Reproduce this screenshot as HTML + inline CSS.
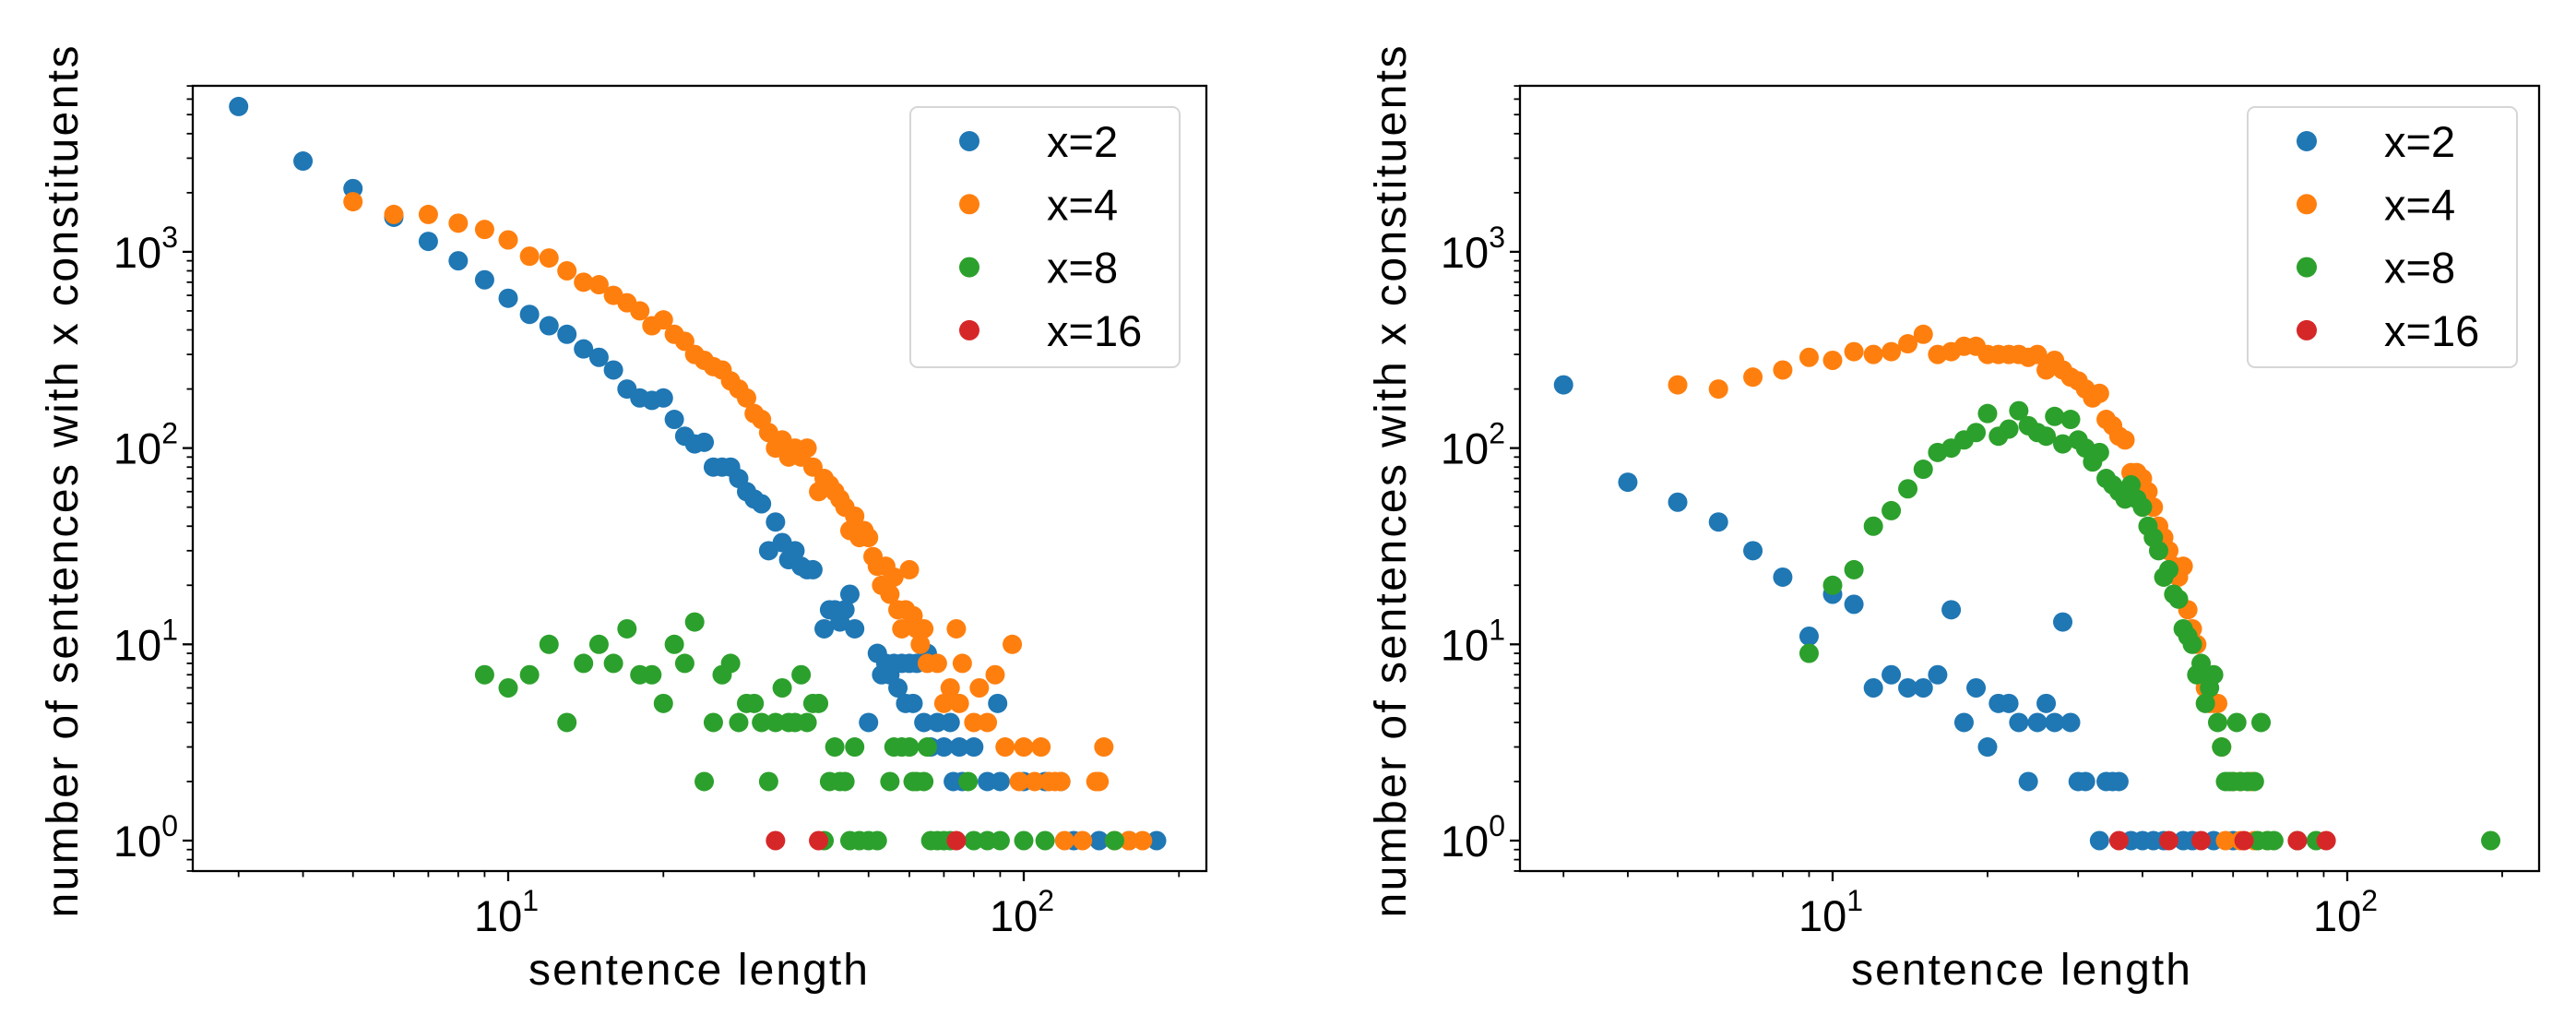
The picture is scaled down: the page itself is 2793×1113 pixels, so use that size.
<!DOCTYPE html>
<html><head><meta charset="utf-8"><style>
html,body{margin:0;padding:0;background:#fff;}
svg{display:block;font-family:"Liberation Sans","DejaVu Sans",sans-serif;}
</style></head><body>
<svg id="fig" width="2793" height="1113" viewBox="0 0 2793 1113" xmlns="http://www.w3.org/2000/svg"></svg>
<script>
// ---- data: [sentence length, count] ----
const leftBlue = [[3,5500],[4,2900],[5,2100],[6,1500],[7,1130],[8,900],[9,720],[10,580],[11,480],[12,420],[13,380],[14,320],[15,290],[16,250],[17,200],[18,180],[19,175],[20,180],[21,140],[22,115],[23,105],[24,107],[25,80],[26,80],[27,80],[28,70],[29,60],[30,55],[31,52],[32,30],[33,42],[34,33],[35,27],[36,30],[37,25],[38,24],[39,24],[41,12],[42,15],[43,15],[44,13],[45,15],[46,18],[47,12],[50,4],[52,9],[53,7],[54,8],[55,7],[56,8],[57,6],[58,8],[59,5],[60,8],[61,5],[62,8],[64,4],[65,9],[66,3],[68,4],[70,3],[72,4],[73,2],[75,3],[76,2],[80,3],[85,2],[89,5],[90,2],[100,2],[110,2],[118,2],[125,1],[140,1],[160,1],[181,1]];
const leftOrange = [[5,1800],[6,1550],[7,1550],[8,1400],[9,1300],[10,1150],[11,950],[12,930],[13,800],[14,700],[15,680],[16,600],[17,550],[18,500],[19,420],[20,450],[21,380],[22,350],[23,300],[24,280],[25,260],[26,250],[27,220],[28,200],[29,180],[30,150],[31,140],[32,120],[33,100],[34,110],[35,90],[36,100],[37,90],[38,100],[39,80],[40,60],[41,70],[42,65],[43,60],[44,55],[45,50],[46,38],[47,45],[48,35],[49,38],[50,35],[51,28],[52,25],[53,20],[54,25],[55,18],[56,22],[57,15],[58,12],[59,15],[60,24],[61,14],[62,12],[63,10],[64,12],[65,8],[68,8],[70,5],[72,6],[74,12],[75,5],[76,8],[80,4],[82,6],[85,4],[88,7],[92,3],[95,10],[98,2],[100,3],[105,2],[108,3],[112,2],[115,2],[118,2],[138,2],[143,3],[140,2],[120,1],[130,1],[150,1],[160,1],[170,1]];
const leftGreen = [[9,7],[10,6],[11,7],[12,10],[13,4],[14,8],[15,10],[16,8],[17,12],[18,7],[19,7],[20,5],[21,10],[22,8],[23,13],[24,2],[25,4],[26,7],[27,8],[28,4],[29,5],[30,5],[31,4],[32,2],[33,4],[34,6],[35,4],[36,4],[37,7],[38,4],[39,5],[40,5],[41,1],[43,3],[42,2],[44,2],[45,2],[46,1],[47,3],[48,1],[50,1],[52,1],[55,2],[56,3],[58,3],[60,3],[62,2],[61,2],[64,2],[65,3],[66,1],[68,1],[70,1],[72,1],[78,2],[80,1],[85,1],[90,1],[100,1],[110,1],[150,1]];
const leftRed = [[33,1],[40,1],[74,1]];
const rightBlue = [[3,210],[4,67],[5,53],[6,42],[7,30],[8,22],[9,11],[10,18],[11,16],[12,6],[13,7],[14,6],[15,6],[16,7],[17,15],[18,4],[19,6],[20,3],[21,5],[22,5],[23,4],[24,2],[25,4],[26,5],[27,4],[28,13],[29,4],[30,2],[31,2],[34,2],[35,2],[36,2],[33,1],[38,1],[40,1],[42,1],[44,1],[48,1],[50,1],[55,1],[60,1]];
const rightOrange = [[5,210],[6,200],[7,230],[8,250],[9,290],[10,280],[11,310],[12,300],[13,310],[14,340],[15,380],[16,300],[17,310],[18,330],[19,330],[20,300],[21,300],[22,300],[23,300],[24,290],[25,300],[26,250],[27,280],[28,250],[29,230],[30,220],[31,200],[32,180],[33,190],[34,140],[35,130],[36,115],[37,110],[38,75],[39,75],[40,70],[41,60],[42,50],[43,40],[44,35],[45,30],[46,25],[47,22],[48,25],[49,15],[50,12],[51,10],[52,7],[53,6],[54,5],[55,5],[56,5],[57,3],[60,2],[62,2],[65,2],[58,1],[62,1],[66,1],[70,1]];
const rightGreen = [[9,9],[10,20],[11,24],[12,40],[13,48],[14,62],[15,78],[16,95],[17,100],[18,110],[19,120],[20,150],[21,115],[22,125],[23,155],[24,130],[25,120],[26,115],[27,145],[28,105],[29,140],[30,110],[31,100],[32,85],[33,95],[34,70],[35,65],[36,60],[37,55],[38,65],[39,55],[40,50],[41,40],[42,35],[43,30],[44,22],[45,24],[46,18],[47,17],[48,12],[49,11],[50,10],[51,7],[52,8],[53,5],[54,6],[55,7],[56,4],[57,3],[58,2],[59,2],[60,2],[61,4],[62,2],[64,2],[66,2],[68,4],[67,1],[70,1],[72,1],[80,1],[87,1],[190,1]];
const rightRed = [[36,1],[45,1],[52,1],[63,1],[80,1],[91,1]];
const seriesLabels = ['x=2','x=4','x=8','x=16'];
const yTickExps = [0,1,2,3];
const xTickExps = [1,2];

const COLORS = ['#1f77b4','#ff7f0e','#2ca02c','#d62728'];
const NS='http://www.w3.org/2000/svg';
const svg=document.getElementById('fig');
function mk(tag,attrs,parent){const e=document.createElementNS(NS,tag);for(const k in attrs)e.setAttribute(k,attrs[k]);(parent||svg).appendChild(e);return e;}

function panel(p){
  const g=mk('g',{});
  
  
  const X=v=>p.x10+(Math.log10(v)-1)*p.dec;
  const Y=v=>p.y0-Math.log10(v)*p.ydec;
  const pts=mk('g',{},g);
  
  
  p.series.forEach((s,si)=>{
    const sg=mk('g',{fill:COLORS[si]},pts);
    
    
    s.forEach(d=>{
      const c=mk('circle',{cx:X(d[0]),cy:Y(d[1]),r:10.5},sg);
      
      
    });
  });
  // frame
  const fr=mk('rect',{x:p.l,y:p.t,width:p.r-p.l,height:p.b-p.t,fill:'none',stroke:'#000','stroke-width':2.3},g);
  
  
  // y ticks
  for(let e=-1;e<=3;e++){for(let m=1;m<10;m++){const v=m*Math.pow(10,e);const y=Y(v);if(y<p.t-0.5||y>p.b+0.5)continue;
    const len=m===1?11:6.5;mk('line',{x1:p.l-len,x2:p.l,y1:y,y2:y,stroke:'#000','stroke-width':m===1?2.3:1.8},g);}}
  yTickExps.forEach(e=>{
    const t=mk('text',{x:p.l-16,y:Y(Math.pow(10,e))+17,'text-anchor':'end','font-size':47},g);
    
    
    t.innerHTML='10<tspan dy="-22" font-size="32">'+e+'</tspan>';
  });
  // x ticks
  for(let e=0;e<=2;e++){for(let m=1;m<10;m++){const v=m*Math.pow(10,e);const x=X(v);if(x<p.l-0.5||x>p.r+0.5)continue;
    const len=m===1?11:6.5;mk('line',{x1:x,x2:x,y1:p.b,y2:p.b+len,stroke:'#000','stroke-width':m===1?2.3:1.8},g);}}
  xTickExps.forEach(e=>{
    const t=mk('text',{x:X(Math.pow(10,e))-37,y:1009,'font-size':47},g);
    
    
    t.innerHTML='10<tspan dy="-22" font-size="32">'+e+'</tspan>';
  });
  const xl=mk('text',{x:p.xlab,y:1067,'text-anchor':'middle','font-size':48,textLength:368},g);
  xl.textContent='sentence length';
  
  
  const yl=mk('text',{x:0,y:0,'text-anchor':'middle','font-size':48,textLength:945,transform:'translate('+(p.ylab+17)+',522) rotate(-90)'},g);
  yl.textContent='number of sentences with x constituents';
  
  
  // legend
  const lg=mk('g',{},g);
  
  
  mk('rect',{x:p.lgx,y:116,width:292,height:282,rx:8,fill:'#fff','fill-opacity':0.8,stroke:'#d6d6d6','stroke-width':2},lg);
  seriesLabels.forEach((lab,i)=>{
    const cy=153+i*68.3;
    const e=mk('g',{},lg);
    
    
    mk('circle',{cx:p.lgx+64,cy:cy,r:11,fill:COLORS[i]},e);
    const t=mk('text',{x:p.lgx+148,y:cy+17,'font-size':47},e);
    t.textContent=lab;
  });
}
panel({name:'left-chart',l:209,r:1308,t:93,b:944,x10:551,dec:559,y0:911,ydec:212.7,xlab:757,ylab:67,lgx:987,
  series:[leftBlue,leftOrange,leftGreen,leftRed]});
panel({name:'right-chart',l:1648,r:2753,t:93,b:944,x10:1987,dec:558,y0:911,ydec:212.7,xlab:2191,ylab:1507,lgx:2437,
  series:[rightBlue,rightOrange,rightGreen,rightRed]});
</script>
</body></html>
